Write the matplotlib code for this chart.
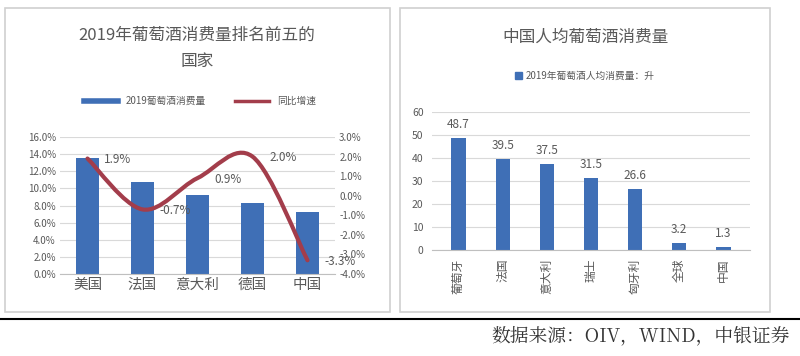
import numpy as np
import matplotlib.pyplot as plt
from matplotlib.path import Path
from matplotlib.patches import PathPatch, Rectangle
from matplotlib.lines import Line2D

plt.rcParams['font.family'] = ['Noto Sans CJK SC', 'DejaVu Sans']

# left chart data
countries = ['美国', '法国', '意大利', '德国', '中国']
share = [13.5, 10.8, 9.2, 8.3, 7.2]          # % of world consumption
growth = [1.9, -0.7, 0.9, 2.0, -3.3]         # yoy %

# right chart data
countries2 = ['葡萄牙', '法国', '意大利', '瑞士', '匈牙利', '全球', '中国']
per_capita = [48.7, 39.5, 37.5, 31.5, 26.6, 3.2, 1.3]

blue = '#3F6FB6'
red = '#A33D4B'
grey = '#595959'

fig = plt.figure(figsize=(8, 3.56), dpi=100)

# panel frames and bottom rule
fig.patches.append(Rectangle((5/800, 1-312/356), 385/800, 304/356, transform=fig.transFigure,
                             fill=False, ec='#D0D0D0', lw=1.2))
fig.patches.append(Rectangle((400/800, 1-312/356), 370/800, 304/356, transform=fig.transFigure,
                             fill=False, ec='#D0D0D0', lw=1.2))
fig.add_artist(Line2D([0, 1], [1-319/356, 1-319/356], color='black', lw=1.5, transform=fig.transFigure))
fig.text(790/800, 1-336/356, '数据来源：OIV，WIND，中银证券', ha='right', va='center',
         fontsize=13.5, color='#333333', family=['Noto Serif CJK SC', 'Noto Sans CJK SC', 'DejaVu Sans'])

# ---- left chart
ax = fig.add_axes([60/800, 1-274/356, 275/800, 137/356])
x = np.arange(len(countries))
ax.bar(x, share, width=0.42, color=blue, zorder=2)
ax.set_ylim(0, 16)
ax.set_yticks(np.arange(0, 17, 2))
ax.set_yticklabels([f'{v:.1f}%' for v in np.arange(0, 17, 2)], fontsize=7, color=grey)
ax.set_xlim(-0.5, len(countries) - 0.5)
ax.set_xticks(x)
ax.set_xticklabels(countries, fontsize=10.5, color=grey)
ax.grid(axis='y', color='#D9D9D9', lw=0.8, zorder=0)
for s in ['top', 'right', 'left']:
    ax.spines[s].set_visible(False)
ax.spines['bottom'].set_color('#BFBFBF')
ax.tick_params(length=0, pad=3)

ax2 = ax.twinx()
ax2.set_ylim(-4, 3)
ax2.set_yticks(np.arange(-4, 4, 1))
ax2.set_yticklabels([f'{v:.1f}%' for v in np.arange(-4, 4, 1)], fontsize=7, color=grey)
for s in ax2.spines.values():
    s.set_visible(False)
ax2.tick_params(length=0, pad=3)

# smoothed line (Catmull-Rom style Bezier like Excel)
pts = np.column_stack([x, growth]).astype(float)
verts = [pts[0]]
codes = [Path.MOVETO]
n = len(pts)
for i in range(n - 1):
    p0 = pts[max(i - 1, 0)]
    p1 = pts[i]
    p2 = pts[i + 1]
    p3 = pts[min(i + 2, n - 1)]
    c1 = p1 + (p2 - p0) / 6
    c2 = p2 - (p3 - p1) / 6
    verts += [c1, c2, p2]
    codes += [Path.CURVE4] * 3
ax2.add_patch(PathPatch(Path(verts, codes), fill=False, ec=red, lw=3, zorder=3,
                        capstyle='round', joinstyle='round'))
for xi, g in zip(x, growth):
    ax2.text(xi + 0.3, g - 0.05, f'{g:.1f}%', fontsize=8.5, color=grey, va='center', ha='left')

fig.text(197/800, 1-35/356, '2019年葡萄酒消费量排名前五的', ha='center', va='center',
         fontsize=12, color=grey)
fig.text(197/800, 1-61/356, '国家', ha='center', va='center', fontsize=12, color=grey)
h1 = Line2D([], [], color=blue, lw=4)
h2 = Line2D([], [], color=red, lw=2.5)
fig.legend([h1, h2], ['2019葡萄酒消费量', '同比增速'], loc='center', ncol=2,
           bbox_to_anchor=(200/800, 1-101/356), frameon=False, fontsize=7,
           labelcolor=grey, handlelength=3.5, columnspacing=3)

# ---- right chart
bx = fig.add_axes([432/800, 1-250/356, 318/800, 138/356])
x2 = np.arange(len(countries2))
bx.bar(x2, per_capita, width=0.32, color=blue, zorder=2)
bx.set_ylim(0, 60)
bx.set_yticks(np.arange(0, 61, 10))
bx.set_yticklabels([str(v) for v in range(0, 61, 10)], fontsize=7.5, color=grey)
bx.set_xlim(-0.6, len(countries2) - 0.4)
bx.set_xticks(x2)
bx.set_xticklabels(countries2, fontsize=8.5, color=grey, rotation=90)
bx.grid(axis='y', color='#D9D9D9', lw=0.8, zorder=0)
for s in ['top', 'right', 'left']:
    bx.spines[s].set_visible(False)
bx.spines['bottom'].set_color('#BFBFBF')
bx.tick_params(length=0, pad=6)
for xi, v in zip(x2, per_capita):
    bx.text(xi, v + 3, f'{v}', ha='center', va='bottom', fontsize=8.5, color=grey)

fig.text(585/800, 1-37/356, '中国人均葡萄酒消费量', ha='center', va='center',
         fontsize=12, color=grey)
fig.legend([Rectangle((0, 0), 1, 1, color=blue)], ['2019年葡萄酒人均消费量：升'], loc='center',
           bbox_to_anchor=(585/800, 1-76/356), frameon=False, fontsize=7, labelcolor=grey,
           handlelength=0.7, handleheight=0.7, handletextpad=0.4)

fig.savefig('out.png', dpi=100, facecolor='white')
